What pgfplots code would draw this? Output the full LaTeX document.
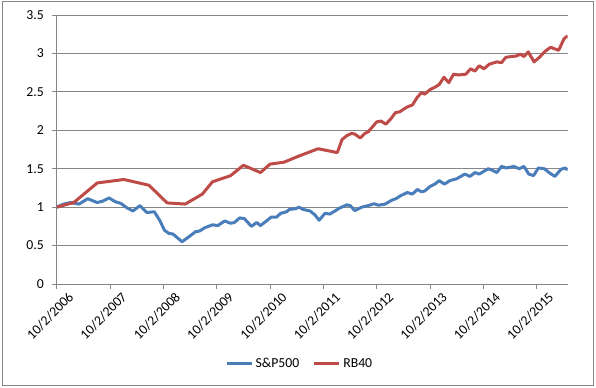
\documentclass[border=0pt]{standalone}
\usepackage{pgfplots}
\pgfplotsset{compat=1.18}
\usepackage{fontspec}
\setmainfont{Carlito}
\definecolor{spblue}{HTML}{4A7EBB}
\definecolor{rbred}{HTML}{BE4B48}
\definecolor{gridgray}{HTML}{868686}
\begin{document}
\begin{tikzpicture}
\useasboundingbox (0,0) rectangle (447pt,290.25pt);
\draw[gridgray, line width=0.75pt] (1.5pt,1.5pt) rectangle (445.1pt,289.5pt);
\begin{axis}[
  at={(42.525pt,77.25pt)}, anchor=south west,
  scale only axis, width=383.25pt, height=201.75pt,
  xmin=0, xmax=9.58, ymin=0, ymax=3.5,
  axis x line*=bottom, axis y line*=left,
  axis line style={gridgray, line width=0.75pt, -},
  xtick={0,1,2,3,4,5,6,7,8,9},
  xticklabels={10/2/2006,10/2/2007,10/2/2008,10/2/2009,10/2/2010,10/2/2011,10/2/2012,10/2/2013,10/2/2014,10/2/2015},
  ytick={0,0.5,1,1.5,2,2.5,3,3.5},
  tick align=outside, major tick length=3.5pt,
  tick style={gridgray, line width=0.75pt},
  ymajorgrids, grid style={gridgray, line width=0.75pt},
  /pgf/number format/assume math mode=true,
  tick label style={font=\fontsize{10.3}{12}\selectfont, black},
  xticklabel style={rotate=45, anchor=north east, inner sep=0pt, xshift=4.5pt, yshift=-7pt},
  yticklabel style={anchor=east, inner sep=0pt, xshift=-6pt},
  legend style={at={(0.476,-0.297)}, anchor=center, draw=none, fill=none,
    legend columns=2, font=\fontsize{10.3}{12}\selectfont,
    /tikz/every even column/.append style={column sep=8pt}},
  legend image code/.code={\draw[#1] (0pt,0pt) -- (18.75pt,0pt);},
  every axis plot/.append style={line width=2.25pt, line join=round},
]
\addplot[spblue] coordinates {
(0,1.00) (0.13,1.04) (0.26,1.06) (0.42,1.04) (0.58,1.11) (0.76,1.06) (0.87,1.08)
(0.98,1.12) (1.10,1.07) (1.20,1.05) (1.32,0.99) (1.43,0.95) (1.56,1.02) (1.69,0.93)
(1.83,0.94) (1.93,0.83) (2.02,0.70) (2.10,0.66) (2.18,0.65) (2.35,0.55) (2.50,0.625)
(2.60,0.68) (2.68,0.69) (2.77,0.73) (2.92,0.77) (3.02,0.76) (3.15,0.82) (3.26,0.79)
(3.33,0.80) (3.43,0.86) (3.52,0.85) (3.65,0.75) (3.75,0.80) (3.82,0.76) (3.95,0.83)
(4.02,0.87) (4.12,0.87) (4.20,0.92) (4.31,0.94) (4.36,0.97) (4.48,0.98) (4.54,1.00)
(4.62,0.97) (4.75,0.95) (4.84,0.90) (4.92,0.83) (5.03,0.92) (5.12,0.91) (5.31,0.99)
(5.44,1.03) (5.50,1.02) (5.59,0.955) (5.72,1.00) (5.84,1.02) (5.95,1.045) (6.03,1.025)
(6.16,1.04) (6.28,1.09) (6.36,1.11) (6.44,1.146) (6.57,1.19) (6.67,1.17) (6.76,1.23)
(6.84,1.20) (6.90,1.21) (7.00,1.27) (7.09,1.30) (7.17,1.345) (7.27,1.30) (7.37,1.345)
(7.50,1.37) (7.65,1.43) (7.75,1.40) (7.84,1.45) (7.92,1.43) (8.09,1.50) (8.15,1.485)
(8.25,1.45) (8.34,1.53) (8.43,1.51) (8.57,1.53) (8.67,1.50) (8.76,1.53) (8.85,1.43)
(8.94,1.41) (9.03,1.51) (9.14,1.50) (9.25,1.44) (9.34,1.40) (9.45,1.49) (9.53,1.51)
(9.58,1.485)
};
\addlegendentry{S\&P500}
\addplot[rbred] coordinates {
(0,1.00) (0.32,1.06) (0.76,1.315) (1.26,1.36) (1.73,1.285) (2.07,1.055) (2.41,1.04)
(2.73,1.17) (2.92,1.33) (3.26,1.41) (3.50,1.545) (3.82,1.45) (4.00,1.56) (4.26,1.585)
(4.56,1.67) (4.90,1.76) (5.26,1.71) (5.35,1.88) (5.44,1.93) (5.53,1.96) (5.59,1.95)
(5.69,1.90) (5.78,1.96) (5.84,1.98) (6.00,2.11) (6.08,2.12) (6.17,2.08) (6.26,2.145)
(6.35,2.23) (6.43,2.24) (6.56,2.30) (6.67,2.33) (6.76,2.43) (6.84,2.49) (6.90,2.47)
(7.00,2.53) (7.09,2.56) (7.17,2.595) (7.26,2.69) (7.35,2.62) (7.44,2.73) (7.53,2.72)
(7.67,2.73) (7.76,2.80) (7.84,2.77) (7.92,2.84) (8.01,2.80) (8.11,2.86) (8.25,2.89)
(8.34,2.88) (8.42,2.95) (8.53,2.96) (8.61,2.965) (8.69,2.99) (8.76,2.96) (8.84,3.02)
(8.95,2.89) (9.05,2.95) (9.16,3.03) (9.26,3.08) (9.41,3.04) (9.51,3.19) (9.58,3.23)
};
\addlegendentry{RB40}
\end{axis}
\end{tikzpicture}
\end{document}
